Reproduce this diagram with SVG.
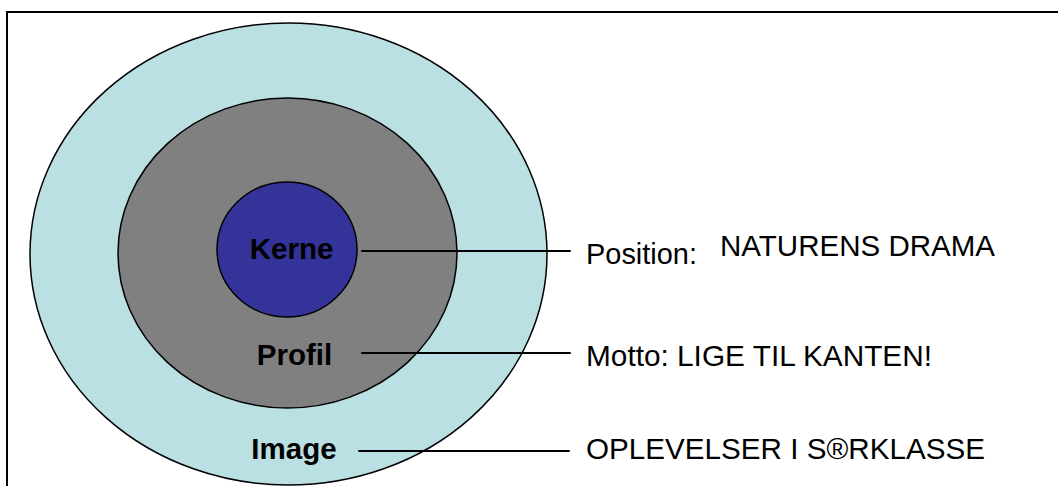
<svg xmlns="http://www.w3.org/2000/svg" width="1058" height="486" viewBox="0 0 1058 486">
<style>
.ring{stroke:#000;stroke-width:1.5}
.lbl{font-family:"Liberation Sans",Arial,sans-serif;font-weight:bold;font-size:29.5px;fill:#000;text-anchor:middle}
.txt{font-family:"Liberation Sans",Arial,sans-serif;font-size:29px;fill:#000}
.conn{stroke:#000;stroke-width:2;stroke-linecap:round}
</style>
<rect x="0" y="0" width="1058" height="486" fill="#fff"/>
<rect x="7" y="12" width="1070" height="490" fill="none" stroke="#000" stroke-width="2"/>
<g id="image">
<ellipse class="ring" cx="288.5" cy="254" rx="258.5" ry="231" fill="#BAE0E3"/>
<text class="lbl" x="294" y="459">Image</text>
</g>
<g id="profil">
<ellipse class="ring" cx="287.5" cy="253" rx="169.5" ry="155" fill="#808080"/>
<text class="lbl" x="294.5" y="365">Profil</text>
</g>
<g id="kerne">
<ellipse class="ring" cx="287" cy="249.5" rx="70" ry="67.5" fill="#333399"/>
<text class="lbl" x="291.5" y="259">Kerne</text>
</g>
<g id="connectors">
<line class="conn" x1="362" y1="251" x2="570" y2="251"/>
<line class="conn" x1="362" y1="353" x2="570" y2="353"/>
<line class="conn" x1="359" y1="451" x2="569" y2="451"/>
</g>
<g id="texts">
<text class="txt" x="586" y="264" textLength="111" lengthAdjust="spacingAndGlyphs">Position:</text>
<text class="txt" x="720" y="256" textLength="275" lengthAdjust="spacingAndGlyphs">NATURENS DRAMA</text>
<text class="txt" x="586" y="366" textLength="346" lengthAdjust="spacingAndGlyphs">Motto: LIGE TIL KANTEN!</text>
<text class="txt" x="586" y="459" textLength="399" lengthAdjust="spacingAndGlyphs">OPLEVELSER I S®RKLASSE</text>
</g>
</svg>
